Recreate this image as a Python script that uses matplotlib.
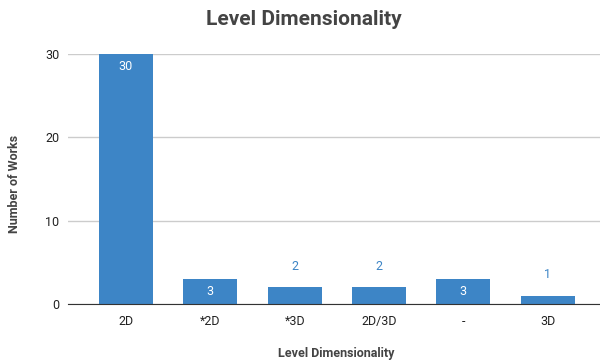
import matplotlib.pyplot as plt

# datos del grafico
categorias = ['2D', '*2D', '*3D', '2D/3D', '-', '3D']
trabajos = [30, 3, 2, 2, 3, 1]
yticks = [0, 10, 20, 30]

plt.rcParams['font.family'] = ['Roboto', 'DejaVu Sans']

azul = '#3d85c6'

fig = plt.figure(figsize=(6, 3.63), dpi=100)
ax = fig.add_axes([0.113, 0.1625, 0.887, 0.6885])

x = range(len(categorias))
ax.bar(x, trabajos, width=0.64, color=azul, zorder=2)

# etiquetas de valor: dentro si la barra es alta, encima si no
for i, v in zip(x, trabajos):
    if v >= 3:
        ax.annotate(str(v), (i, v), xytext=(0, -9), textcoords='offset points',
                    ha='center', va='center', color='white', fontsize=9)
    else:
        ax.annotate(str(v), (i, v), xytext=(0, 15), textcoords='offset points',
                    ha='center', va='center', color=azul, fontsize=9)

ax.set_xlim(-0.69, 5.62)
ax.set_ylim(0, 30)
ax.set_xticks(list(x))
ax.set_xticklabels(categorias)
ax.set_yticks(yticks)
ax.tick_params(axis='both', length=0, labelsize=9, colors='#222222')
ax.tick_params(axis='x', pad=8)
ax.tick_params(axis='y', pad=6)

ax.grid(axis='y', color='#cccccc', linewidth=1, zorder=0)
for s in ['top', 'right', 'left']:
    ax.spines[s].set_visible(False)
ax.spines['bottom'].set_color('#333333')
ax.spines['bottom'].set_zorder(3)

fig.text(0.507, 0.945, 'Level Dimensionality', ha='center', va='center',
         fontsize=15, fontweight='bold', color='#444444')
fig.text(0.56, 0.027, 'Level Dimensionality', ha='center', va='center',
         fontsize=9, fontweight='bold', color='#444444')
fig.text(0.025, 0.493, 'Number of Works', ha='center', va='center', rotation=90,
         fontsize=9, fontweight='bold', color='#444444')

plt.savefig('out.png', dpi=100)
